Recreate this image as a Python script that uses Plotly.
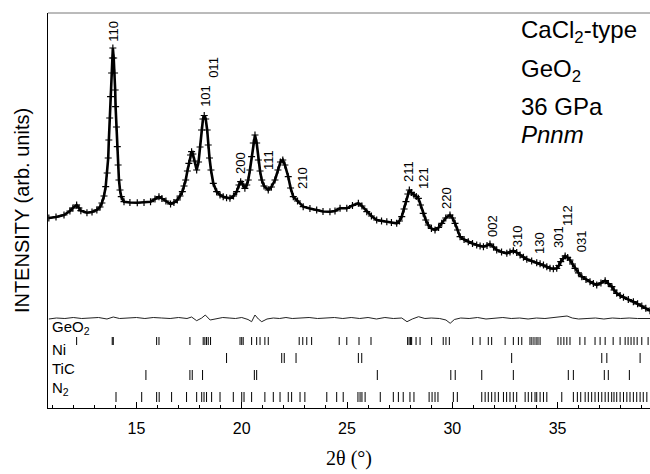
import plotly.graph_objects as go

# ---------------- data ----------------
two_theta = [10.84, 11.18, 11.56, 11.84, 11.98, 12.16, 12.27, 12.36, 12.65, 12.89, 13.12, 13.27, 13.36, 13.46,
             13.54, 13.61, 13.66, 13.69, 13.73, 13.77, 13.82, 13.86, 13.88, 13.92, 13.96, 13.99, 14.01, 14.05,
             14.09, 14.13, 14.17, 14.22, 14.28, 14.41, 14.69, 15.04, 15.36, 15.67, 15.88, 16.07, 16.21, 16.40,
             16.62, 16.78, 16.94, 17.07, 17.18, 17.26, 17.34, 17.42, 17.49, 17.57, 17.62, 17.68, 17.76, 17.86,
             17.95, 18.02, 18.09, 18.16, 18.22, 18.29, 18.36, 18.41, 18.47, 18.54, 18.65, 18.81, 18.97, 19.12,
             19.28, 19.44, 19.61, 19.76, 19.87, 19.95, 20.04, 20.15, 20.24, 20.31, 20.39, 20.47, 20.55, 20.63,
             20.71, 20.79, 20.87, 20.95, 21.06, 21.26, 21.41, 21.58, 21.72, 21.84, 21.95, 22.05, 22.21, 22.32,
             22.45, 22.65, 22.92, 23.24, 23.56, 23.86, 24.19, 24.43, 24.67, 24.99, 25.26, 25.54, 25.71, 25.94,
             26.16, 26.41, 26.64, 26.89, 27.11, 27.36, 27.49, 27.60, 27.71, 27.80, 27.89, 27.96, 28.06, 28.18,
             28.29, 28.39, 28.49, 28.62, 28.74, 28.86, 29.01, 29.18, 29.35, 29.50, 29.69, 29.89, 30.01, 30.13,
             30.25, 30.37, 30.56, 30.76, 30.96, 31.16, 31.32, 31.48, 31.65, 31.79, 31.96, 32.11, 32.34, 32.59,
             32.74, 32.90, 33.06, 33.22, 33.38, 33.54, 33.77, 34.01, 34.17, 34.33, 34.49, 34.64, 34.80, 34.96,
             35.06, 35.15, 35.26, 35.36, 35.48, 35.59, 35.71, 35.83, 35.99, 36.15, 36.35, 36.54, 36.70, 36.86,
             37.06, 37.26, 37.41, 37.58, 37.68, 37.81, 37.97, 38.13, 38.36, 38.60, 38.80, 39.00, 39.19, 39.39]
intensity = [190, 191, 193, 197, 200, 203, 200, 197.3, 195.3, 196, 198, 201, 205, 212,
             221.3, 235, 250, 268, 290, 311.3, 335, 350, 360, 350, 335, 318, 301.3, 281,
             261.3, 243, 228, 218, 211.3, 206.3, 205.5, 205.3, 205.5, 206.3, 209, 211.3, 209.5, 207,
             204, 205.5, 208, 212, 216.3, 222, 228, 237, 244.7, 253, 256.3, 254, 247, 238,
             246, 261, 278, 289, 292.5, 289, 278, 263, 250, 238, 224.7, 216.3, 213, 211.3,
             210.2, 209.7, 212, 216.3, 223, 226.3, 224, 219.7, 223, 228, 238, 251.3, 265, 273,
             265, 248, 237, 228, 222, 218, 221, 228, 238, 246, 248, 243, 231.3, 220,
             211.3, 207, 201.3, 199.5, 198, 196.5, 196.3, 197, 199.7, 199.7, 202.5, 204.7, 202, 196.3,
             192, 188, 187, 186.3, 185.5, 184.7, 187, 191.3, 199, 206.3, 214, 218, 215.5, 213,
             211.5, 209.7, 203, 194.7, 188, 183, 179.5, 178, 180.5, 184.7, 190, 193, 190, 184.7,
             178, 171.3, 168.5, 166.3, 164.5, 163, 162, 161.3, 162.5, 164, 161, 158, 156, 154.7,
             156, 157.3, 155.5, 153, 150.8, 148.7, 147, 145.3, 144.2, 143, 141.3, 139.7, 139.2, 139.7,
             142.5, 146.3, 149.5, 152, 150.5, 148, 144, 139.7, 135.2, 131.3, 128.5, 126.3, 124.5, 123,
             125, 127.3, 124.5, 121.3, 118, 114.7, 112.5, 110.7, 108.5, 106.3, 104.2, 102, 99.7, 97.3]

diff_theta = [10.84, 11.2, 11.6, 12.0, 12.4, 12.8, 13.2, 13.6, 13.9, 14.2, 14.6, 15.0, 15.4, 15.8, 16.2,
              16.6, 17.0, 17.4, 17.62, 17.86, 18.1, 18.27, 18.5, 18.8, 19.1, 19.4, 19.7, 20.0, 20.3,
              20.47, 20.63, 20.79, 20.95, 21.2, 21.5, 21.8, 22.1, 22.4, 22.8, 23.2, 23.6, 24.0, 24.4,
              24.8, 25.2, 25.6, 26.0, 26.4, 26.8, 27.2, 27.6, 27.85, 28.1, 28.4, 28.7, 29.0, 29.4,
              29.7, 29.9, 30.1, 30.4, 30.8, 31.2, 31.6, 32.0, 32.4, 32.8, 33.2, 33.6, 34.0, 34.4,
              34.8, 35.2, 35.45, 35.7, 36.0, 36.4, 36.8, 37.2, 37.6, 38.0, 38.4, 38.8, 39.2, 39.39]
diff_value = [89, 90, 89.5, 90.5, 89.5, 90, 90.5, 89, 91, 89.5, 90, 90.5, 89.5, 90.5, 90,
              89.5, 90.5, 89.5, 91, 87.3, 90, 93, 88, 89.5, 90.5, 90, 89.5, 90.5, 88.5,
              86.3, 93, 89, 86.3, 89, 90, 89.5, 90.5, 89.5, 90, 90.5, 89.5, 90, 90.5,
              89.5, 90.5, 89.5, 90.5, 89, 90.5, 89.5, 90, 86.3, 89, 91.3, 89.5, 90, 89.5,
              88, 84.7, 88.5, 90, 89.5, 90.5, 89, 90, 90.5, 89.5, 90, 89, 90, 89.5,
              90.5, 91, 92, 90, 89, 89.5, 90, 89, 90, 89.5, 90, 89.5, 90, 89.5]

ticks_geo2 = [12.16, 13.85, 13.90, 15.96, 16.07, 17.54, 18.17, 18.25, 18.33, 18.41, 18.52, 19.92, 20.00,
              20.07, 20.47, 20.71, 20.87, 21.10, 21.26, 22.73, 22.90, 23.09, 23.32, 24.63, 24.99, 25.57,
              26.14, 27.88, 27.95, 28.02, 28.07, 28.28, 28.47, 29.02, 29.57, 29.70, 29.86, 30.97, 31.32,
              31.71, 31.87, 32.51, 32.90, 33.14, 33.30, 33.69, 33.78, 33.88, 33.98, 34.07, 34.17, 35.02,
              35.16, 35.30, 35.44, 35.59, 36.06, 36.30, 36.78, 37.02, 37.26, 37.64, 37.97, 38.21, 38.35,
              38.49, 38.63, 38.78, 39.00, 39.30]
ticks_ni = [19.28, 21.90, 22.02, 22.58, 25.54, 25.70, 32.82, 37.10, 37.34, 38.92]
ticks_tic = [15.45, 17.54, 17.65, 18.14, 20.60, 20.71, 26.44, 29.93, 30.14, 31.40, 32.90, 35.51, 35.75,
             37.22, 37.41, 38.41]
ticks_n2 = [14.03, 15.25, 15.96, 16.08, 16.67, 17.38, 17.86, 18.10, 18.21, 18.33, 18.57, 18.97, 19.60,
            20.00, 20.11, 20.47, 21.10, 21.50, 21.82, 22.21, 22.37, 22.77, 23.00, 24.04, 24.51, 24.82,
            25.52, 25.62, 25.71, 25.86, 26.58, 27.20, 27.44, 27.67, 27.99, 28.18, 28.90, 29.04, 29.18,
            29.32, 30.05, 30.24, 31.40, 31.56, 31.71, 31.87, 32.03, 32.19, 32.43, 32.58, 32.74, 32.90,
            33.06, 33.46, 33.61, 33.77, 33.93, 34.01, 34.17, 34.33, 34.49, 35.20, 35.75, 35.94, 36.10,
            36.31, 36.46, 36.62, 36.78, 36.94, 37.10, 37.26, 37.41, 37.57, 37.68, 37.81, 37.97, 38.13,
            38.29, 38.44, 38.60, 38.76, 38.92, 39.07, 39.24]

phase_names = ["GeO<sub>2</sub>", "Ni", "TiC", "N<sub>2</sub>"]

hkl_labels = ["110", "101", "011", "200", "111", "210", "211", "121", "220", "002", "310", "130",
              "301", "112", "031"]
hkl_theta = [13.88, 18.25, 18.63, 19.92, 21.25, 22.86, 27.90, 28.61, 29.70, 31.89, 33.08, 34.12,
             35.02, 35.45, 36.12]
hkl_height = [377, 312, 341, 245, 248, 230, 236, 230, 210, 182, 172, 165, 171, 192, 167]

info_lines = ["CaCl<sub>2</sub>-type", "GeO<sub>2</sub>", "36 GPa", "<i>Pnnm</i>"]

# ---------------- styling / layout constants ----------------
ROW_SPANS = [(63, 71), (45, 55), (28, 38), (6, 16)]   # vertical extent of each tick row
ROW_LABEL_Y = [81, 59, 40, 20]
INFO_Y = [0.953, 0.855, 0.764, 0.693]
FONT = "Liberation Sans, Arial, sans-serif"

fig = go.Figure()

# calculated line + observed crosses
fig.add_trace(go.Scatter(x=two_theta, y=intensity, mode="lines",
                         line=dict(color="black", width=2.6), hoverinfo="skip"))
fig.add_trace(go.Scatter(x=two_theta, y=intensity, mode="markers",
                         marker=dict(symbol="cross-thin", size=5, color="black",
                                     line=dict(color="black", width=1.2)), hoverinfo="skip"))
# difference curve
fig.add_trace(go.Scatter(x=diff_theta, y=diff_value, mode="lines",
                         line=dict(color="#222", width=1), hoverinfo="skip"))

# reflection tick rows
for positions, (lo, hi) in zip([ticks_geo2, ticks_ni, ticks_tic, ticks_n2], ROW_SPANS):
    xs, ys = [], []
    for p in positions:
        xs += [p, p, None]
        ys += [lo, hi, None]
    fig.add_trace(go.Scatter(x=xs, y=ys, mode="lines", line=dict(color="black", width=1),
                             hoverinfo="skip"))

annotations = []
for name, yv in zip(phase_names, ROW_LABEL_Y):
    annotations.append(dict(x=0.004, xref="paper", y=yv, yref="y", text=name, showarrow=False,
                            xanchor="left", yanchor="middle", font=dict(family=FONT, size=15, color="black")))
for lab, xv, yv in zip(hkl_labels, hkl_theta, hkl_height):
    annotations.append(dict(x=xv, y=yv, text=lab, showarrow=False, textangle=-90,
                            xanchor="center", yanchor="middle", font=dict(family=FONT, size=13, color="black")))
for txt, yv in zip(info_lines, INFO_Y):
    annotations.append(dict(x=0.783, xref="paper", y=yv, yref="paper", text=txt, showarrow=False,
                            xanchor="left", yanchor="middle", font=dict(family=FONT, size=24, color="black")))

fig.update_layout(
    width=650, height=474,
    margin=dict(l=48, r=0, t=13, b=66),
    paper_bgcolor="white", plot_bgcolor="white",
    showlegend=False,
    annotations=annotations,
    shapes=[dict(type="line", xref="paper", yref="paper", x0=0, x1=1, y0=1, y1=1,
                 line=dict(color="#777", width=1))],
    xaxis=dict(range=[10.80, 39.39], showgrid=False, zeroline=False,
               showline=True, linecolor="black", linewidth=1,
               tickmode="array", tickvals=[15, 20, 25, 30, 35], ticks="inside", ticklen=6,
               tickcolor="black", tickfont=dict(family=FONT, size=16, color="black"),
               ticklabelstandoff=6,
               minor=dict(dtick=1, tick0=0, ticks="inside", ticklen=3, tickcolor="black"),
               title=dict(text="2θ (°)", font=dict(family="Liberation Serif, Times New Roman, serif",
                                                   size=20, color="black"), standoff=14)),
    yaxis=dict(range=[0, 395], showgrid=False, zeroline=False, showline=True,
               linecolor="black", linewidth=1, showticklabels=False, ticks="",
               title=dict(text="INTENSITY (arb. units)", font=dict(family=FONT, size=20, color="black"),
                          standoff=12)),
)

fig.write_html("out.html")
